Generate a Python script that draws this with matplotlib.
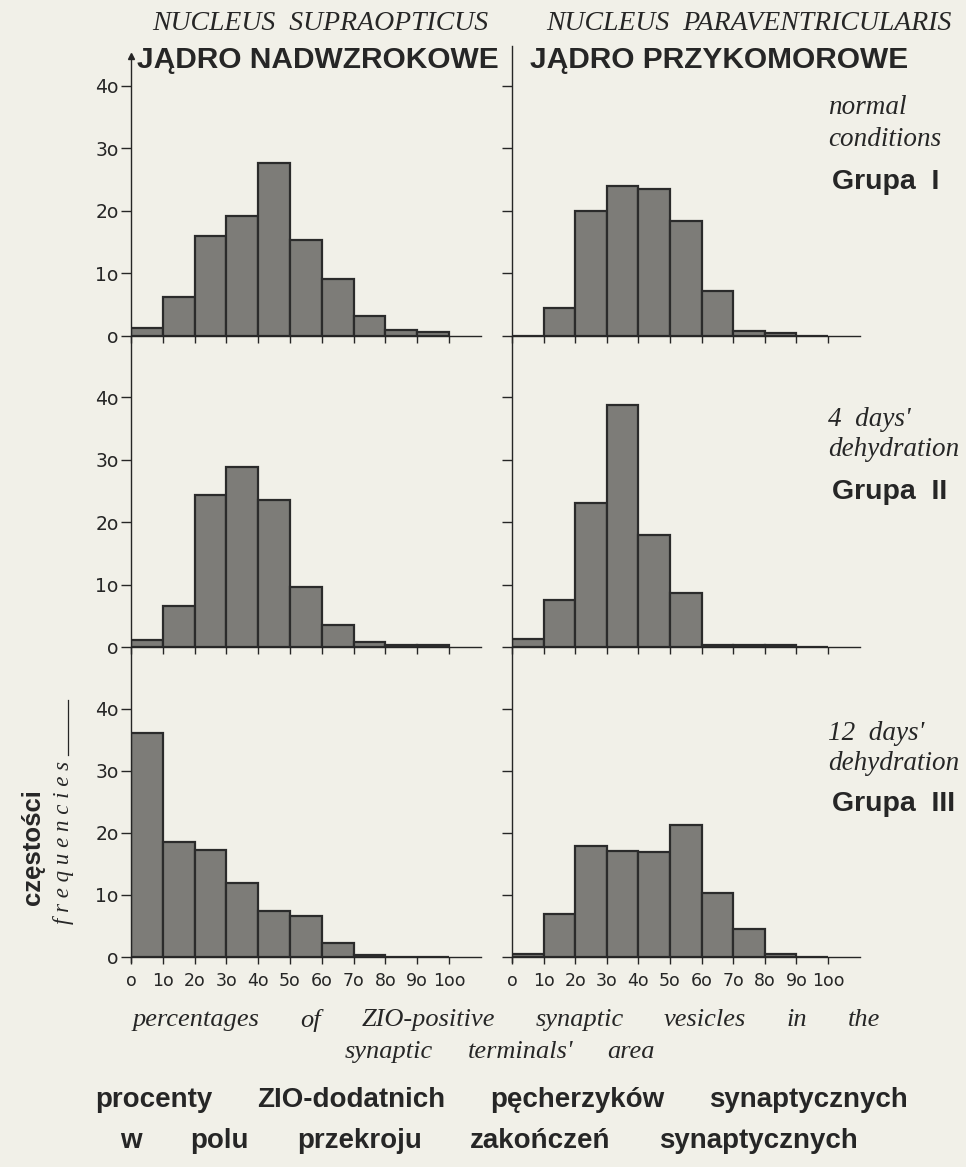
import matplotlib
matplotlib.use("Agg")
import matplotlib.pyplot as plt
from matplotlib.lines import Line2D
import numpy as np

# ---------------- data ----------------
bin_edges = [0, 10, 20, 30, 40, 50, 60, 70, 80, 90]
supra_I = [1.2, 6.2, 16.0, 19.2, 27.6, 15.3, 9.0, 3.2, 0.9, 0.5]
para_I = [0.0, 4.4, 19.9, 23.9, 23.4, 18.4, 7.1, 0.7, 0.4, 0.0]
supra_II = [1.1, 6.5, 24.3, 28.9, 23.6, 9.6, 3.6, 0.8, 0.4, 0.4]
para_II = [1.3, 7.5, 23.0, 38.8, 18.0, 8.7, 0.4, 0.4, 0.4, 0.0]
supra_III = [36.0, 18.5, 17.1, 11.9, 7.3, 6.5, 2.2, 0.3, 0.0, 0.0]
para_III = [0.4, 6.9, 17.9, 17.0, 16.8, 21.2, 10.3, 4.4, 0.4, 0.0]

y_ticks = [0, 10, 20, 30, 40]
y_ticklabels = ["o", "1o", "2o", "3o", "4o"]
x_ticks = [0, 10, 20, 30, 40, 50, 60, 70, 80, 90, 100]
x_ticklabels = ["o", "1o", "2o", "3o", "4o", "5o", "6o", "7o", "8o", "9o", "1oo"]

col_titles_lat = ["NUCLEUS  SUPRAOPTICUS", "NUCLEUS  PARAVENTRICULARIS"]
col_titles_pl = ["JĄDRO NADWZROKOWE", "JĄDRO PRZYKOMOROWE"]
row_notes = [["normal", "conditions"], ["4  days'", "dehydration"], ["12  days'", "dehydration"]]
row_groups = ["Grupa  I", "Grupa  II", "Grupa  III"]

# ---------------- style ----------------
W, H = 966, 1167
BG = "#f1f0e8"
INK = "#262626"
BAR = "#7d7c78"
SERIF = ["Liberation Serif", "DejaVu Serif"]
SANS = ["Liberation Sans", "DejaVu Sans"]
TICKF = ["DejaVu Sans"]

fig = plt.figure(figsize=(W / 100, H / 100), dpi=100, facecolor=BG)


def rect(left, bottom, width, height):
    return [left / W, 1 - bottom / H, width / W, height / H]


def fig_line(x0, y0, x1, y1, lw=1.0):
    fig.add_artist(Line2D([x0 / W, x1 / W], [1 - y0 / H, 1 - y1 / H],
                          transform=fig.transFigure, color=INK, lw=lw))


col_left = [131, 512]
col_pxu = [3.18, 3.16]
row_zero = [335.5, 647.0, 956.5]
row_pxu = [6.24, 6.24, 6.20]
YMAX = 44

data = [[supra_I, para_I], [supra_II, para_II], [supra_III, para_III]]

for r in range(3):
    for c in range(2):
        h = YMAX * row_pxu[r]
        w = 110 * col_pxu[c]
        ax = fig.add_axes(rect(col_left[c], row_zero[r], w, h))
        ax.set_facecolor("none")
        ax.bar(bin_edges, data[r][c], width=10, align="edge", color=BAR,
               edgecolor="#2b2b2b", linewidth=1.6, zorder=2)
        ax.set_xlim(0, 110)
        ax.set_ylim(0, YMAX)
        for s in ["top", "right", "left"]:
            ax.spines[s].set_visible(False)
        ax.spines["bottom"].set_color(INK)
        ax.spines["bottom"].set_linewidth(1.0)
        ax.set_xticks(x_ticks)
        if r == 2:
            ax.set_xticklabels(x_ticklabels, fontsize=12.5, family=TICKF, color=INK)
        else:
            ax.set_xticklabels([])
        ax.set_yticks(y_ticks)
        if c == 0:
            ax.set_yticklabels(y_ticklabels, fontsize=13.5, family=TICKF, color=INK)
        else:
            ax.set_yticklabels([])
        ax.tick_params(axis="x", direction="out", length=5, width=1.0, color=INK, pad=6)
        ax.tick_params(axis="y", direction="out", length=7, width=1.0, color=INK, pad=2)

# continuous vertical axes
fig_line(131, 58, 131, 962)
fig.add_artist(Line2D([131 / W], [1 - 56 / H], marker="^", markersize=4,
                      color=INK, transform=fig.transFigure))
fig_line(512, 46, 512, 962)

# column titles
for c, xc in enumerate([320, 749]):
    fig.text(xc / W, 1 - 24 / H, col_titles_lat[c], ha="center", va="center",
             fontsize=20, style="italic", family=SERIF, color=INK)
for c, x0 in enumerate([137, 530]):
    fig.text(x0 / W, 1 - 60 / H, col_titles_pl[c], ha="left", va="center",
             fontsize=21.5, weight="bold", family=SANS, color=INK)

# row notes
note_y = [(108, 140, 182), (419, 450, 492), (733, 763, 804)]
for r in range(3):
    y1, y2, yg = note_y[r]
    fig.text(828 / W, 1 - y1 / H, row_notes[r][0], ha="left", va="center",
             fontsize=19.5, style="italic", family=SERIF, color=INK)
    fig.text(828 / W, 1 - y2 / H, row_notes[r][1], ha="left", va="center",
             fontsize=19.5, style="italic", family=SERIF, color=INK)
    fig.text(832 / W, 1 - yg / H, row_groups[r], ha="left", va="center",
             fontsize=20.5, weight="bold", family=SANS, color=INK)

# y label
fig.text(33 / W, 1 - 847 / H, "częstości", rotation=90, ha="center", va="center",
         fontsize=18.5, weight="bold", family=SANS, color=INK)
fig.text(64 / W, 1 - 843 / H, "f r e q u e n c i e s", rotation=90, ha="center", va="center",
         fontsize=16.5, style="italic", family=SERIF, color=INK)
fig_line(68, 755, 68, 700, lw=0.9)

renderer = fig.canvas.get_renderer()


def justified(words, x0, x1, y, **kw):
    texts = [fig.text(0, 1 - y / H, wd, ha="left", va="center", **kw) for wd in words]
    widths = [t.get_window_extent(renderer).width for t in texts]
    gap = (x1 - x0 - sum(widths)) / max(len(words) - 1, 1)
    x = x0
    for t, wdt in zip(texts, widths):
        t.set_x(x / W)
        x += wdt + gap


justified(["percentages", "of", "ZIO-positive", "synaptic", "vesicles", "in", "the"],
          133, 880, 1020, fontsize=19, style="italic", family=SERIF, color=INK)
justified(["synaptic", "terminals'", "area"], 345, 655, 1052,
          fontsize=19, style="italic", family=SERIF, color=INK)
justified(["procenty", "ZIO-dodatnich", "pęcherzyków", "synaptycznych"], 95, 908, 1100,
          fontsize=20, weight="bold", family=SANS, color=INK)
justified(["w", "polu", "przekroju", "zakończeń", "synaptycznych"], 120, 858, 1141,
          fontsize=20, weight="bold", family=SANS, color=INK)

fig.savefig("out.png", dpi=100, facecolor=BG)
